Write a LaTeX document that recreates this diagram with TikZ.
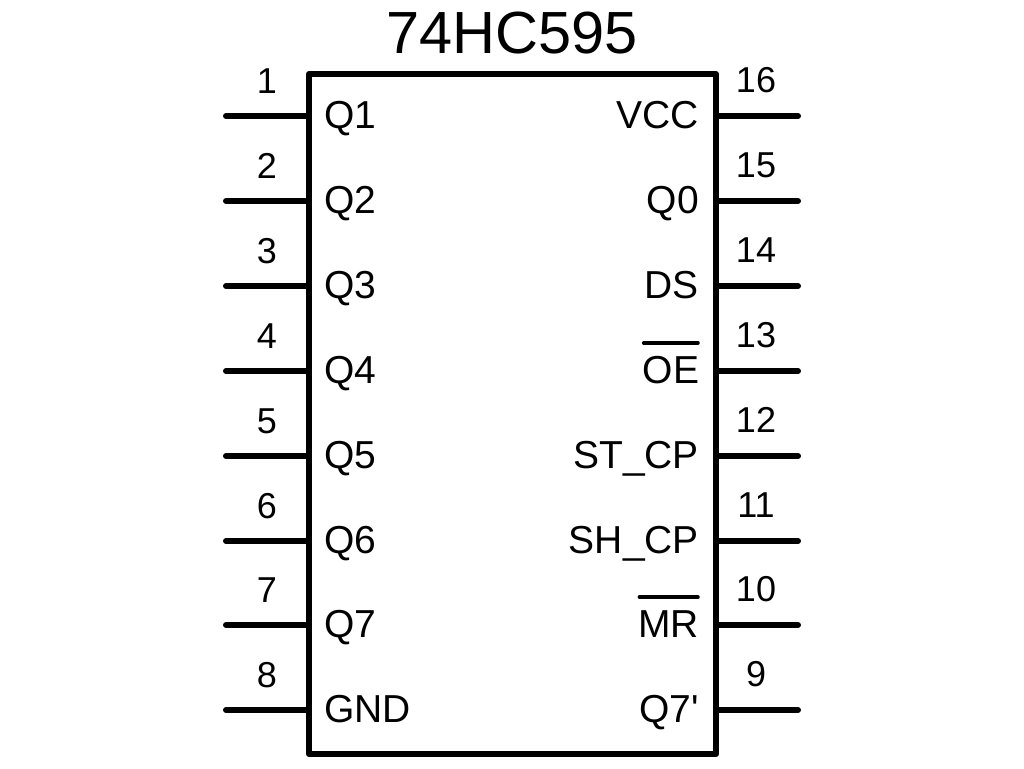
\documentclass[tikz,border=0pt]{standalone}
\usepackage{fontspec}
\setmainfont{Liberation Sans}
\newfontfamily\rawf{Liberation Sans}
\usetikzlibrary{calc}
\tikzset{
  chip/.style={draw=black,line width=6pt,line join=round,fill=none,outer sep=0pt,inner sep=0pt},
  wire/.style={line width=6pt,line cap=round,black},
  lab/.style={font=\fontsize{39}{39}\selectfont,inner sep=0pt,outer sep=0pt,text=black},
  num/.style={font=\fontsize{36}{36}\selectfont,inner sep=0pt,outer sep=0pt,text=black},
  bar/.style={line width=3.5pt,line cap=round,black}
}
\begin{document}
\begin{tikzpicture}[x=1pt,y=-1pt]
\useasboundingbox (0,0) rectangle (1024,768);
\fill[white] (0,0) rectangle (1024,768);
\node[chip,minimum width=407pt,minimum height=680pt,anchor=north west] (ic) at (309,74) {};
\node[font=\fontsize{59.5}{59.5}\selectfont,inner sep=0pt,anchor=base] (title) at (512,54) {74HC595};
\foreach \n/\y/\t in {1/116/Q1,2/201/Q2,3/286/Q3,4/371/Q4,5/456/Q5,6/541/Q6,7/625/Q7,8/710/GND}{
  \coordinate (pl\n) at (ic.west |- 0,\y);
  \coordinate (el\n) at (226,\y);
  \draw[wire] (el\n) -- (pl\n);
  \node[lab,anchor=base west] (tl\n) at (324,\y+12) {\t};
  \node[num,anchor=base] (nl\n) at (267,\y-23) {\n};
}
\foreach \n/\y/\t in {16/116/VCC,15/201/Q0,14/286/DS,13/371/OE,12/456/ST\_CP,11/541/SH\_CP,10/625/MR,9/710/\rawf Q7'}{
  \coordinate (pr\n) at (ic.east |- 0,\y);
  \coordinate (er\n) at (798,\y);
  \draw[wire] (pr\n) -- (er\n);
  \node[lab,anchor=base east] (tr\n) at (699,\y+12) {\t};
  \node[num,anchor=base] (nr\n) at (756,\y-24) {\n};
}
\draw[bar] ($(tr13.north west)+(1,-13)$) -- ($(tr13.north east)+(-1,-13)$);
\draw[bar] ($(tr10.north west)+(1,-13)$) -- ($(tr10.north east)+(-1,-13)$);
\end{tikzpicture}
\end{document}
